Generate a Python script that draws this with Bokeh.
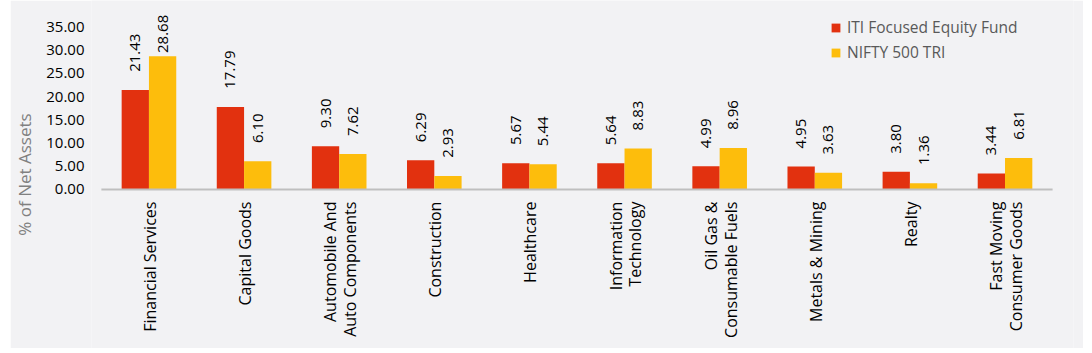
import numpy as np
from bokeh.plotting import figure
from bokeh.models import ColumnDataSource, Range1d, FixedTicker, PrintfTickFormatter
from bokeh.core.properties import value
from bokeh.embed import file_html
from bokeh.resources import INLINE

# ---- data ----
categories = ["Financial Services", "Capital Goods", "Automobile And\nAuto Components",
              "Construction", "Healthcare", "Information\nTechnology",
              "Oil Gas &\nConsumable Fuels", "Metals & Mining", "Realty",
              "Fast Moving\nConsumer Goods"]
fund = [21.43, 17.79, 9.30, 6.29, 5.67, 5.64, 4.99, 4.95, 3.80, 3.44]
nifty = [28.68, 6.10, 7.62, 2.93, 5.44, 8.83, 8.96, 3.63, 1.36, 6.81]
series_names = ["ITI Focused Equity Fund", "NIFTY 500 TRI"]
y_ticks = [0, 5, 10, 15, 20, 25, 30, 35]
y_title = "% of Net Assets"

RED = "#e2310f"
YELLOW = "#fdbd0c"
BG = "#f2f2f4"
FONT = "Open Sans"

idx = np.arange(len(categories), dtype=float)
bar_w = 0.287
off = bar_w / 2

src = ColumnDataSource(dict(
    x_f=idx - off, x_n=idx + off, fund=fund, nifty=nifty,
    lab_f=[f"{v:.2f}" for v in fund], lab_n=[f"{v:.2f}" for v in nifty],
    ly_f=np.minimum(np.array(fund) + 3.9, 29.4),
    ly_n=np.minimum(np.array(nifty) + 3.9, 29.4),
))

# category label lines (each line drawn separately so they stay top-aligned)
line_pitch = 0.21
lx, ltxt = [], []
for i, lab in enumerate(categories):
    parts = lab.split("\n")
    n = len(parts)
    for k, part in enumerate(parts):
        lx.append(i + (k - (n - 1) / 2) * line_pitch + 0.01)
        ltxt.append(part)
cat_src = ColumnDataSource(dict(x=lx, y=[-2.6] * len(lx), text=ltxt))

p = figure(width=1073, height=348, output_backend="svg", toolbar_location=None,
           x_axis_type=None,
           x_range=Range1d(-0.604, 9.72), y_range=Range1d(-34.24, 40.7),
           min_border_left=80, min_border_right=10, min_border_top=0, min_border_bottom=0)
p.margin = (0, 0, 0, 10)
p.background_fill_color = BG
p.border_fill_color = BG
p.outline_line_color = None
p.xgrid.visible = False
p.ygrid.visible = False

# bars
p.vbar(x="x_f", top="fund", bottom=0, width=bar_w, source=src, fill_color=RED,
       line_color=None, legend_label=series_names[0])
p.vbar(x="x_n", top="nifty", bottom=0, width=bar_w, source=src, fill_color=YELLOW,
       line_color=None, legend_label=series_names[1])

# baseline (category axis line)
p.segment(x0=[idx[0] - 0.5], x1=[idx[-1] + 0.5], y0=[0], y1=[0],
          line_color="#bfbfbf", line_width=2)

# value labels
for xc, yc, tc in (("x_f", "ly_f", "lab_f"), ("x_n", "ly_n", "lab_n")):
    p.text(x=xc, y=yc, text=tc, source=src, angle=np.pi / 2,
           text_align="left", text_baseline="middle",
           text_font=value(FONT), text_font_size="15px", text_color="#000000")

# category labels
p.text(x="x", y="y", text="text", source=cat_src, angle=np.pi / 2,
       text_align="right", text_baseline="middle",
       text_font=value(FONT), text_font_size="16px", text_color="#000000")

# y axis
ax = p.yaxis[0]
ax.ticker = FixedTicker(ticks=y_ticks)
ax.formatter = PrintfTickFormatter(format="%.2f")
ax.axis_line_color = None
ax.major_tick_line_color = None
ax.minor_tick_line_color = None
ax.major_tick_out = 0
ax.major_tick_in = 0
ax.major_label_standoff = 7
ax.major_label_text_font = FONT
ax.major_label_text_font_size = "15px"
ax.major_label_text_color = "#000000"
ax.axis_label = y_title
ax.axis_label_text_font = FONT
ax.axis_label_text_font_size = "17px"
ax.axis_label_text_font_style = "normal"
ax.axis_label_text_color = "#808080"
ax.axis_label_standoff = 7

# legend
lg = p.legend[0]
lg.location = (739, 285)
lg.padding = 0
lg.margin = 0
lg.spacing = 3
lg.label_height = 20
lg.glyph_width = 11
lg.glyph_height = 11
lg.label_standoff = 6
lg.label_text_font = FONT
lg.label_text_font_size = "15.5px"
lg.label_text_color = "#595959"
lg.background_fill_alpha = 0
lg.border_line_color = None

open("out.html", "w").write(file_html(p, INLINE))
